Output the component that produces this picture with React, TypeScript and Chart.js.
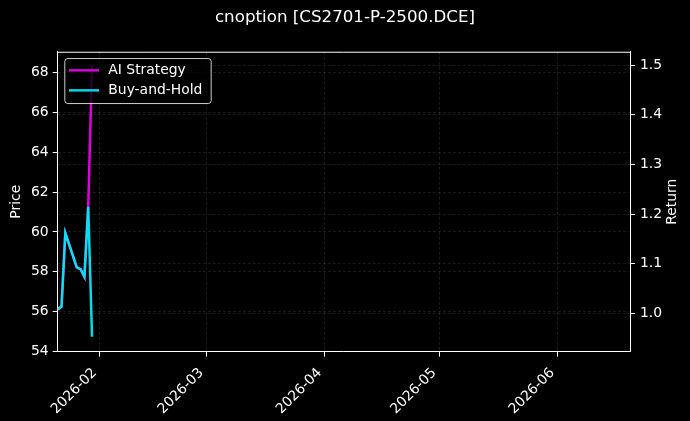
import { useEffect, useRef } from 'react'
import { Chart, registerables } from 'chart.js'

Chart.register(...registerables)

// trading days shown on the chart
const dates = ['2026-01-21', '2026-01-22', '2026-01-23', '2026-01-26', '2026-01-27', '2026-01-28', '2026-01-29', '2026-01-30']
// cumulative return (right axis)
const aiStrategy = [1.008, 1.014, 1.162, 1.093, 1.089, 1.074, 1.215, 1.5]
const buyAndHold = [1.008, 1.014, 1.162, 1.093, 1.089, 1.074, 1.215, 0.953]

const monthTicks = ['2026-02', '2026-03', '2026-04', '2026-05', '2026-06']
const priceTicks = [54, 56, 58, 60, 62, 64, 66, 68]
const returnTicks = [1.0, 1.1, 1.2, 1.3, 1.4, 1.5]

const xStart = '2026-01-21'
const xEnd = '2026-06-20'

const FONT = "'DejaVu Sans', sans-serif"
const GRID = 'rgba(255, 255, 255, 0.2)'

const dayNum = (s: string) => Date.UTC(+s.slice(0, 4), +s.slice(5, 7) - 1, +(s.slice(8, 10) || '1')) / 86400000

// top spine, right axis label (reads upward like matplotlib) and a boxed legend
const framePlugin = {
  id: 'frame',
  afterDatasetsDraw(chart: Chart) {
    const { ctx, chartArea: a } = chart
    ctx.save()
    ctx.strokeStyle = '#fff'
    ctx.lineWidth = 1
    ctx.beginPath()
    ctx.moveTo(a.left, a.top + 0.5)
    ctx.lineTo(a.right, a.top + 0.5)
    ctx.stroke()

    // legend
    ctx.font = `13.9px ${FONT}`
    const sets = chart.data.datasets
    const textW = Math.max(...sets.map((d) => ctx.measureText(String(d.label)).width))
    const bx = a.left + 6.6
    const by = a.top + 6.3
    const bw = 44 + textW + 8.3
    const bh = 45
    ctx.fillStyle = 'rgba(0, 0, 0, 0.8)'
    ctx.strokeStyle = 'rgba(255, 255, 255, 0.8)'
    ctx.beginPath()
    ctx.roundRect(bx + 0.5, by + 0.5, bw, bh, 3)
    ctx.fill()
    ctx.stroke()
    sets.forEach((d, i) => {
      const y = by + 12.3 + i * 20
      ctx.strokeStyle = d.borderColor as string
      ctx.lineWidth = 2.4
      ctx.beginPath()
      ctx.moveTo(bx + 4.7, y)
      ctx.lineTo(bx + 34.7, y)
      ctx.stroke()
      ctx.fillStyle = '#fff'
      ctx.textBaseline = 'middle'
      ctx.textAlign = 'left'
      ctx.fillText(String(d.label), bx + 44, y + 0.5)
    })

    // right axis title
    ctx.translate(672.8, (a.top + a.bottom) / 2)
    ctx.rotate(-Math.PI / 2)
    ctx.textAlign = 'center'
    ctx.textBaseline = 'middle'
    ctx.fillStyle = '#fff'
    ctx.fillText('Return', 0, 0)
    ctx.restore()
  },
}

const bgPlugin = {
  id: 'bg',
  beforeDraw(chart: Chart) {
    const { ctx } = chart
    ctx.save()
    ctx.fillStyle = '#000'
    ctx.fillRect(0, 0, chart.width, chart.height)
    ctx.restore()
  },
}

const tickFont = { family: FONT, size: 13.9 }

export default function App() {
  const canvasRef = useRef<HTMLCanvasElement>(null)
  const chartRef = useRef<Chart | null>(null)

  useEffect(() => {
    if (!canvasRef.current) return
    if (chartRef.current) chartRef.current.destroy()

    const xs = dates.map(dayNum)

    chartRef.current = new Chart(canvasRef.current, {
      type: 'line',
      data: {
        datasets: [
          {
            label: 'AI Strategy',
            data: xs.map((x, i) => ({ x, y: aiStrategy[i] })),
            borderColor: 'rgba(235, 0, 235, 0.95)',
            borderWidth: 2.5,
            pointRadius: 0,
            yAxisID: 'y1',
            order: 1,
          },
          {
            label: 'Buy-and-Hold',
            data: xs.map((x, i) => ({ x, y: buyAndHold[i] })),
            borderColor: 'rgba(0, 235, 245, 0.95)',
            borderWidth: 2.5,
            pointRadius: 0,
            yAxisID: 'y1',
            order: 0,
          },
        ],
      },
      options: {
        responsive: false,
        animation: false,
        layout: { padding: 0 },
        plugins: {
          legend: { display: false },
          tooltip: { enabled: false },
          title: {
            display: true,
            text: 'cnoption [CS2701-P-2500.DCE]',
            color: '#fff',
            font: { family: FONT, size: 16.7, weight: 'normal' },
            padding: { top: 7.5, bottom: 24.2 },
          },
        },
        scales: {
          x: {
            type: 'linear',
            min: dayNum(xStart),
            max: dayNum(xEnd),
            afterBuildTicks: (s) => {
              s.ticks = monthTicks.map((m) => ({ value: dayNum(m + '-01') }))
            },
            afterFit: (s) => {
              s.height = 69.3
            },
            ticks: {
              autoSkip: false,
              minRotation: 45,
              maxRotation: 45,
              padding: 8,
              labelOffset: -5,
              color: '#fff',
              font: tickFont,
              callback: (_v, i) => monthTicks[i],
            },
            grid: {
              color: GRID,
              lineWidth: 0.5,
              tickColor: '#fff',
              tickLength: 5,
              tickWidth: 1,
              tickBorderDash: [],
            },
            border: { display: true, color: '#fff', width: 1, dash: [3, 2] },
          },
          y: {
            type: 'linear',
            position: 'left',
            min: 54,
            max: 69.03,
            afterBuildTicks: (s) => {
              s.ticks = priceTicks.map((v) => ({ value: v }))
            },
            afterFit: (s) => {
              s.width = 57.7
            },
            ticks: { color: '#fff', font: tickFont, padding: 4, callback: (v) => String(v) },
            grid: {
              color: GRID,
              lineWidth: 0.5,
              tickColor: '#fff',
              tickLength: 5,
              tickWidth: 1,
              tickBorderDash: [],
            },
            border: { display: true, color: '#fff', width: 1, dash: [3, 2] },
            title: {
              display: true,
              text: 'Price',
              color: '#fff',
              font: tickFont,
              padding: { top: 8.4, bottom: 0 },
            },
          },
          y1: {
            type: 'linear',
            position: 'right',
            min: 0.923,
            max: 1.527,
            afterBuildTicks: (s) => {
              s.ticks = returnTicks.map((v) => ({ value: v }))
            },
            afterFit: (s) => {
              s.width = 60
            },
            ticks: { color: '#fff', font: tickFont, padding: 5, callback: (v) => Number(v).toFixed(1) },
            grid: {
              color: GRID,
              lineWidth: 0.5,
              drawOnChartArea: true,
              tickColor: '#fff',
              tickLength: 5,
              tickWidth: 1,
              tickBorderDash: [],
            },
            border: { display: true, color: '#fff', width: 1, dash: [3, 2] },
          },
        },
      },
      plugins: [bgPlugin, framePlugin],
    })

    return () => {
      if (chartRef.current) {
        chartRef.current.destroy()
        chartRef.current = null
      }
    }
  }, [])

  return (
    <div style={{ position: 'fixed', left: 0, top: 0, width: 690, height: 421, background: '#000' }}>
      <canvas ref={canvasRef} width={690} height={421} />
    </div>
  )
}
